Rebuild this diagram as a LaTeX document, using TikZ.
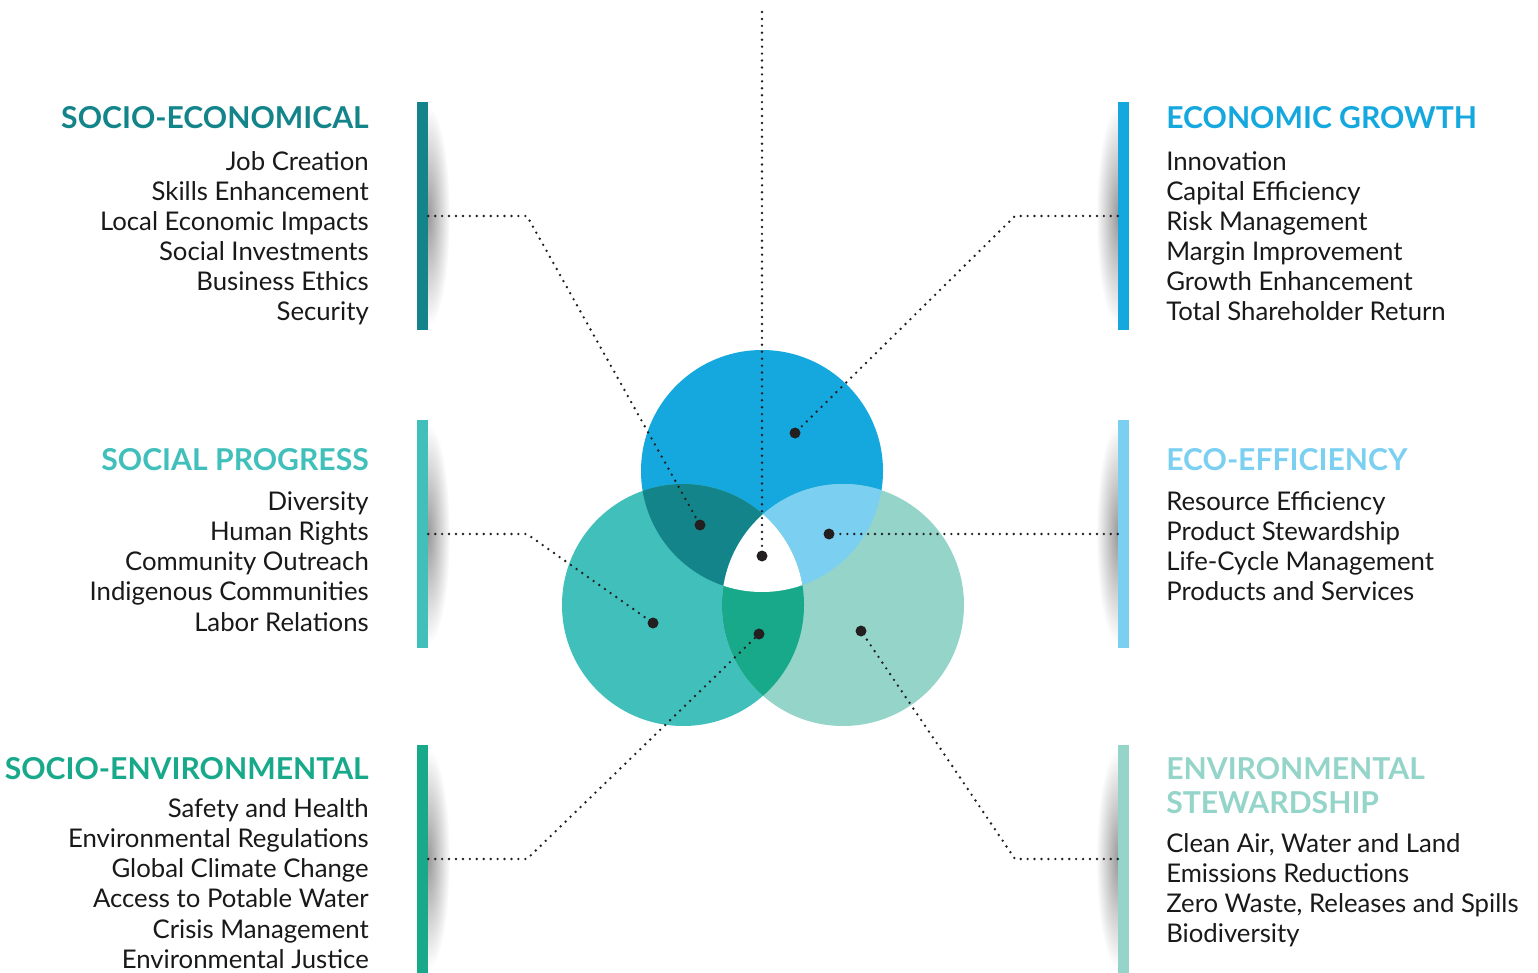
\documentclass[tikz,border=0pt]{standalone}
\usepackage{fontspec}
\setmainfont{Lato}
\usetikzlibrary{positioning}
\definecolor{egblue}{HTML}{14A8DE}
\definecolor{spteal}{HTML}{40BFBB}
\definecolor{esmint}{HTML}{94D4C9}
\definecolor{sedark}{HTML}{13858A}
\definecolor{eelight}{HTML}{7BD0F2}
\definecolor{segreen}{HTML}{18A98A}
\definecolor{inkdot}{HTML}{231F20}
\begin{document}
\begin{tikzpicture}[x=0.75pt, y=-0.75pt,
    head/.style={font=\fontsize{22.6}{26}\selectfont\bfseries, inner sep=0pt},
    item/.style={font=\fontsize{19.3}{23}\selectfont, inner sep=0pt, text=black!90},
    bar/.style={rectangle, inner sep=0pt, minimum width=8.25pt, minimum height=171pt},
    link/.style={draw=inkdot, line width=2pt, line cap=round, dash pattern=on 0pt off 5.2pt},
    dot/.style={circle, fill=inkdot, inner sep=0pt, minimum size=8.25pt},
    glow/.style={inner color=black!40, outer color=white}]
    \useasboundingbox (0,0) rectangle (1538,973);

    % three circles
    \fill[egblue] (762,471) circle[radius=121];
    \fill[spteal] (683,605) circle[radius=121];
    \fill[esmint] (843,605) circle[radius=121];
    \begin{scope}
        \clip (762,471) circle[radius=121];
        \fill[sedark] (683,605) circle[radius=121];
        \fill[eelight] (843,605) circle[radius=121];
    \end{scope}
    \begin{scope}
        \clip (683,605) circle[radius=121];
        \fill[segreen] (843,605) circle[radius=121];
        \clip (762,471) circle[radius=121];
        \fill[white] (843,605) circle[radius=121];
    \end{scope}

    % shadows behind the bars
    \begin{scope}
        \clip (428,90) rectangle (470,973);
        \shade[glow] (428,216) ellipse[x radius=22, y radius=110];
        \shade[glow] (428,534) ellipse[x radius=22, y radius=110];
        \shade[glow] (428,859) ellipse[x radius=22, y radius=110];
    \end{scope}
    \begin{scope}
        \clip (1076,90) rectangle (1118,973);
        \shade[glow] (1118,216) ellipse[x radius=22, y radius=110];
        \shade[glow] (1118,534) ellipse[x radius=22, y radius=110];
        \shade[glow] (1118,859) ellipse[x radius=22, y radius=110];
    \end{scope}

    % bars
    \node[bar, fill=sedark] (b-se) at (422.5,216) {};
    \node[bar, fill=spteal] (b-sp) at (422.5,534) {};
    \node[bar, fill=segreen] (b-sv) at (422.5,859) {};
    \node[bar, fill=egblue] (b-eg) at (1123.5,216) {};
    \node[bar, fill=eelight] (b-ee) at (1123.5,534) {};
    \node[bar, fill=esmint] (b-es) at (1123.5,859) {};

    % dots
    \node[dot] (d-mid) at (762,556) {};
    \node[dot] (d-eg) at (795,433) {};
    \node[dot] (d-se) at (700,525) {};
    \node[dot] (d-ee) at (829,534) {};
    \node[dot] (d-sp) at (653,623) {};
    \node[dot] (d-sv) at (759,634) {};
    \node[dot] (d-es) at (861,631) {};

    % bends
    \coordinate (top) at (762,12);
    \coordinate (k-se) at (527,216);
    \coordinate (k-sp) at (527,534);
    \coordinate (k-sv) at (527,859);
    \coordinate (k-eg) at (1015,216);
    \coordinate (k-es) at (1015,859);

    % dotted leaders
    \draw[link] (top) -- (d-mid);
    \draw[link] (b-se.east) -- (k-se) -- (d-se);
    \draw[link] (b-sp.east) -- (k-sp) -- (d-sp);
    \draw[link] (b-sv.east) -- (k-sv) -- (d-sv);
    \draw[link] (b-eg.west) -- (k-eg) -- (d-eg);
    \draw[link] (b-ee.west) -- (d-ee);
    \draw[link] (b-es.west) -- (k-es) -- (d-es);

    % socio-economical
    \node[head, text=sedark, anchor=base east] (h-se) at (369,129) {SOCIO-ECONOMICAL};
    \node[item, anchor=base east] (se-1) at (369,171) {Job Creation};
    \node[item, anchor=base east] (se-2) at (369,201) {Skills Enhancement};
    \node[item, anchor=base east] (se-3) at (369,231) {Local Economic Impacts};
    \node[item, anchor=base east] (se-4) at (369,261) {Social Investments};
    \node[item, anchor=base east] (se-5) at (369,291) {Business Ethics};
    \node[item, anchor=base east] (se-6) at (369,321) {Security};

    % social progress
    \node[head, text=spteal, anchor=base east] (h-sp) at (369,470) {SOCIAL PROGRESS};
    \node[item, anchor=base east] (sp-1) at (369,510) {Diversity};
    \node[item, anchor=base east] (sp-2) at (369,540) {Human Rights};
    \node[item, anchor=base east] (sp-3) at (369,570) {Community Outreach};
    \node[item, anchor=base east] (sp-4) at (369,600) {Indigenous Communities};
    \node[item, anchor=base east] (sp-5) at (369,631) {Labor Relations};

    % socio-environmental
    \node[head, text=segreen, anchor=base east] (h-sv) at (369,779) {SOCIO-ENVIRONMENTAL};
    \node[item, anchor=base east] (sv-1) at (369,817) {Safety and Health};
    \node[item, anchor=base east] (sv-2) at (369,847) {Environmental Regulations};
    \node[item, anchor=base east] (sv-3) at (369,877) {Global Climate Change};
    \node[item, anchor=base east] (sv-4) at (369,907) {Access to Potable Water};
    \node[item, anchor=base east] (sv-5) at (369,938) {Crisis Management};
    \node[item, anchor=base east] (sv-6) at (369,968) {Environmental Justice};

    % economic growth
    \node[head, text=egblue, anchor=base west] (h-eg) at (1166,129) {ECONOMIC GROWTH};
    \node[item, anchor=base west] (eg-1) at (1166,171) {Innovation};
    \node[item, anchor=base west] (eg-2) at (1166,201) {Capital Efficiency};
    \node[item, anchor=base west] (eg-3) at (1166,231) {Risk Management};
    \node[item, anchor=base west] (eg-4) at (1166,261) {Margin Improvement};
    \node[item, anchor=base west] (eg-5) at (1166,291) {Growth Enhancement};
    \node[item, anchor=base west] (eg-6) at (1166,321) {Total Shareholder Return};

    % eco-efficiency
    \node[head, text=eelight, anchor=base west] (h-ee) at (1166,470) {ECO-EFFICIENCY};
    \node[item, anchor=base west] (ee-1) at (1166,510) {Resource Efficiency};
    \node[item, anchor=base west] (ee-2) at (1166,540) {Product Stewardship};
    \node[item, anchor=base west] (ee-3) at (1166,570) {Life-Cycle Management};
    \node[item, anchor=base west] (ee-4) at (1166,600) {Products and Services};

    % environmental stewardship
    \node[head, text=esmint, anchor=base west] (h-es) at (1166,779) {ENVIRONMENTAL};
    \node[head, text=esmint, anchor=base west] (h-es2) at (1166,813) {STEWARDSHIP};
    \node[item, anchor=base west] (es-1) at (1166,852) {Clean Air, Water and Land};
    \node[item, anchor=base west] (es-2) at (1166,882) {Emissions Reductions};
    \node[item, anchor=base west] (es-3) at (1166,912) {Zero Waste, Releases and Spills};
    \node[item, anchor=base west] (es-4) at (1166,942) {Biodiversity};
\end{tikzpicture}
\end{document}
